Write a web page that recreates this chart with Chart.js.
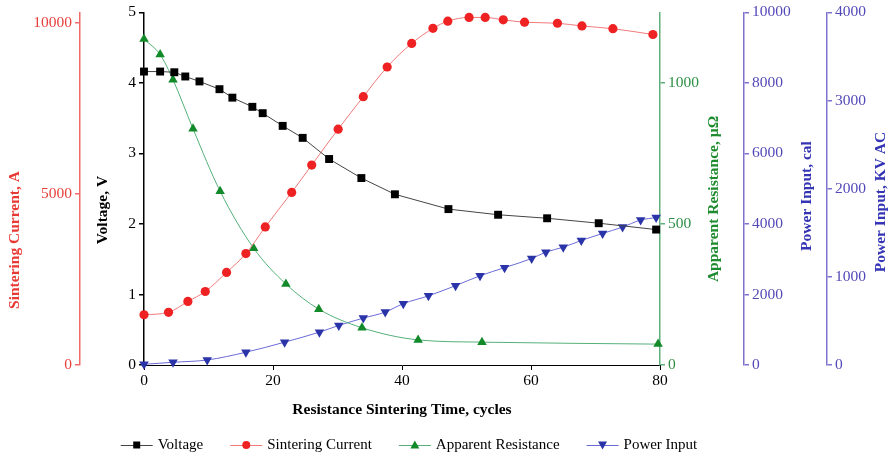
<!DOCTYPE html>
<html>
<head>
<meta charset="utf-8">
<script src="https://cdn.jsdelivr.net/npm/chart.js@4.4.0/dist/chart.umd.min.js"></script>
<style>
html,body{margin:0;padding:0;background:#fff;}
#wrap{width:891px;height:457px;}
</style>
</head>
<body>
<div id="wrap"><canvas id="c" width="891" height="457"></canvas></div>
<script>
// ---- data ----
const voltageTime = [0,2.5,4.7,6.4,8.6,11.7,13.7,16.8,18.4,21.5,24.6,28.7,33.7,38.9,47.2,54.9,62.5,70.5,79.4];
const voltageValues = [4.16,4.16,4.15,4.09,4.02,3.91,3.79,3.66,3.57,3.39,3.22,2.92,2.65,2.42,2.21,2.13,2.08,2.01,1.92];

const currentTime = [0,3.8,6.8,9.5,12.8,15.8,18.8,22.9,26.0,30.1,34.0,37.7,41.5,44.8,47.1,50.4,52.9,55.7,59.0,64.1,67.9,72.7,78.9];
const currentValues = [1470,1540,1860,2150,2710,3260,4040,5050,5850,6900,7850,8720,9410,9850,10060,10170,10170,10100,10030,10000,9920,9840,9670];

const resistanceTime = [0,2.5,4.5,7.6,11.8,17.0,22.0,27.1,33.8,42.5,52.4,79.7];
const resistanceValues = [1155,1100,1011,837,616,414,287,198,132,89,81,74];

const powerTime = [0,4.5,9.8,15.8,21.8,27.2,30.2,34.0,37.4,40.2,44.1,48.3,52.1,55.9,60.1,62.3,65.0,67.8,71.1,74.2,77.0,79.4];
const powerValues = [20,77,142,362,647,932,1120,1330,1500,1740,1960,2250,2530,2760,3020,3200,3340,3530,3730,3910,4110,4180];

const seriesLabels = ['Voltage','Sintering Current','Apparent Resistance','Power Input'];
const xTicks = [0,20,40,60,80];
const voltageTicks = [0,1,2,3,4,5];
const currentTicks = [0,5000,10000];
const resistanceTicks = [0,500,1000];
const calTicks = [0,2000,4000,6000,8000,10000];
const kvTicks = [0,1000,2000,3000,4000];

// ---- styling ----
const FONT = '"Liberation Serif", "Times New Roman", serif';
const RED_AX = '#f06a6a', RED_TX = '#e8413c';
const GRN_AX = '#5fae7c', GRN_TX = '#2d8f45';
const PUR_AX = '#7e72cf', PUR_TX = '#5248b8';
const lineColors = ['#444','#f27a7a','#55b07a','#6a6ad8'];
const markColors = ['#000','#ee2222','#128a2a','#2a34a8'];

function pts(t, v){ return t.map((x,i)=>({x:x, y:v[i]})); }
function fixTicks(list){ return s => { s.ticks = list.map(v=>({value:v})); }; }

function drawMarker(g, kind, x, y, col){
  g.fillStyle = col;
  g.beginPath();
  if (kind===0){ g.rect(x-3.5,y-3.5,7,7); }
  else if (kind===1){ g.arc(x,y,4,0,Math.PI*2); }
  else if (kind===2){ g.moveTo(x,y-4.5); g.lineTo(x+4.5,y+3.5); g.lineTo(x-4.5,y+3.5); g.closePath(); }
  else { g.moveTo(x,y+4.5); g.lineTo(x+4.5,y-3.5); g.lineTo(x-4.5,y-3.5); g.closePath(); }
  g.fill();
}

const titlePlugin = {
  id:'axisTitles',
  afterDraw(chart){
    const ctx = chart.ctx, s = chart.scales;
    const items = [
      {t:'Sintering Current, A', x:s.yI.left+15, y:240, c:'#e83a34'},
      {t:'Voltage, V', x:s.yV.left+23, y:210, c:'#000'},
      {t:'Apparent Resistance, \u00b5\u03a9', x:s.yR.left+54, y:199, c:'#1e8c2e'},
      {t:'Power Input, cal', x:s.yP.left+63, y:196, c:'#3434b4'},
      {t:'Power Input, KV AC', x:s.yK.left+54, y:202, c:'#3434b4'}
    ];
    ctx.save();
    ctx.font = 'bold 15.5px ' + FONT;
    ctx.textAlign = 'center'; ctx.textBaseline = 'middle';
    items.forEach(it=>{
      ctx.save();
      ctx.translate(it.x, it.y);
      ctx.rotate(-Math.PI/2);
      ctx.fillStyle = it.c;
      ctx.fillText(it.t, 0, 0);
      ctx.restore();
    });
    // legend
    ctx.font = '15px ' + FONT;
    ctx.textAlign = 'left';
    const lineW = 32, gapT = 5, gapI = 27;
    const names = chart.data.datasets.map(d=>d.label);
    const widths = names.map(n=>ctx.measureText(n).width);
    const total = names.length*(lineW+gapT) + widths.reduce((a,b)=>a+b,0) + gapI*(names.length-1);
    let x = 409 - total/2;
    const y = 445;
    names.forEach((n,i)=>{
      ctx.strokeStyle = lineColors[i]; ctx.lineWidth = 1;
      ctx.beginPath(); ctx.moveTo(x, y+0.5); ctx.lineTo(x+lineW, y+0.5); ctx.stroke();
      drawMarker(ctx, i, x+lineW/2, y, markColors[i]);
      ctx.fillStyle = '#000';
      ctx.fillText(n, x+lineW+gapT, y);
      x += lineW + gapT + widths[i] + gapI;
    });
    ctx.restore();
  }
};

function yAxis(pos, min, max, ticks, axCol, txCol, width, extra){
  return Object.assign({
    type:'linear', position:pos, min:min, max:max,
    afterBuildTicks: fixTicks(ticks),
    afterFit: s => { s.width = width; },
    ticks:{ color:txCol, font:{family:FONT, size:15.5}, padding:3, callback: v => String(v) },
    grid:{ drawOnChartArea:false, drawTicks:true, tickLength:5, color:axCol, lineWidth:1.5 },
    border:{ color:axCol, width:1.5 },
    title:{ display:false }
  }, extra||{});
}

new Chart(document.getElementById('c'), {
  type:'line',
  data:{
    datasets:[
      { label:seriesLabels[0], data:pts(voltageTime, voltageValues), yAxisID:'yV',
        borderColor:lineColors[0], borderWidth:1, pointStyle:'rect', pointRadius:5.6,
        pointBackgroundColor:markColors[0], pointBorderColor:markColors[0], pointBorderWidth:0, tension:0, clip:false },
      { label:seriesLabels[1], data:pts(currentTime, currentValues), yAxisID:'yI',
        borderColor:lineColors[1], borderWidth:1, pointStyle:'circle', pointRadius:4.6,
        pointBackgroundColor:markColors[1], pointBorderColor:markColors[1], pointBorderWidth:0,
        cubicInterpolationMode:'monotone', clip:false },
      { label:seriesLabels[2], data:pts(resistanceTime, resistanceValues), yAxisID:'yR',
        borderColor:lineColors[2], borderWidth:1, pointStyle:'triangle', pointRadius:5.5,
        pointBackgroundColor:markColors[2], pointBorderColor:markColors[2], pointBorderWidth:0,
        cubicInterpolationMode:'monotone', clip:false },
      { label:seriesLabels[3], data:pts(powerTime, powerValues), yAxisID:'yP',
        borderColor:lineColors[3], borderWidth:1, pointStyle:'triangle', pointRotation:180, pointRadius:5.5,
        pointBackgroundColor:markColors[3], pointBorderColor:markColors[3], pointBorderWidth:0,
        cubicInterpolationMode:'monotone', clip:false }
    ]
  },
  options:{
    responsive:false, animation:false,
    layout:{ padding:{ top:12, left:0, right:0, bottom:36 } },
    plugins:{ tooltip:{enabled:false}, legend:{ display:false } },
    scales:{
      x:{
        type:'linear', position:'bottom', min:0, max:80,
        afterBuildTicks: fixTicks(xTicks),
        afterFit: s => { s.height = 56; },
        ticks:{ color:'#000', font:{family:FONT, size:15.5}, padding:2, callback: v => String(v) },
        grid:{ drawOnChartArea:false, drawTicks:true, tickLength:5, color:'#000' },
        border:{ color:'#000', width:1 },
        title:{ display:true, text:'Resistance Sintering Time, cycles', color:'#000',
          font:{family:FONT, size:15.5, weight:'bold'}, padding:{top:4, bottom:2} }
      },
      yV: yAxis('left', 0, 5, voltageTicks, '#000', '#000', 64, {weight:0}),
      yI: yAxis('left', 0, 10320, currentTicks, RED_AX, RED_TX, 80, {weight:1}),
      yR: yAxis('right', 0, 1250, resistanceTicks, GRN_AX, GRN_TX, 84, {weight:0}),
      yP: yAxis('right', 0, 10000, calTicks, PUR_AX, PUR_TX, 83, {weight:1}),
      yK: yAxis('right', 0, 4000, kvTicks, PUR_AX, PUR_TX, 64, {weight:2})
    }
  },
  plugins:[titlePlugin]
});
</script>
</body>
</html>
